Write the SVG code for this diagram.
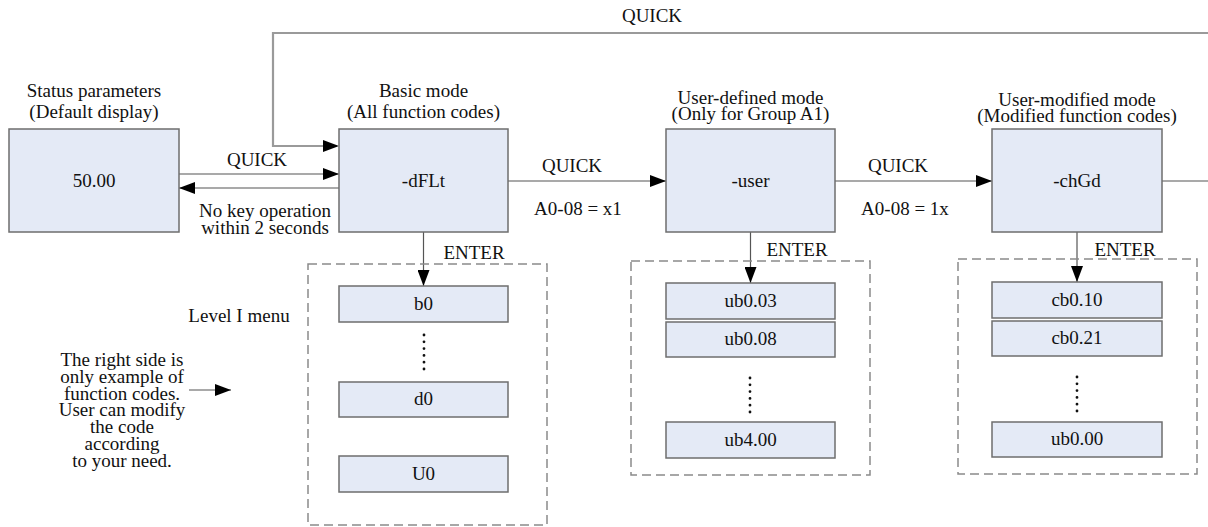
<svg xmlns="http://www.w3.org/2000/svg" width="1208" height="527" viewBox="0 0 1208 527" font-family="'Liberation Serif', 'Times New Roman', 'DejaVu Serif', serif">
<style>
text{font-family:'Liberation Serif','Times New Roman','DejaVu Serif',serif;font-size:19px;fill:#111;text-anchor:middle}
.box{fill:#e4eaf6;stroke:#6e6e6e;stroke-width:1.5}
.grp{fill:none;stroke:#8a8a8a;stroke-width:1.5;stroke-dasharray:9 5}
.ln{fill:none;stroke:#555;stroke-width:1.2}
.loop{fill:none;stroke:#9a9a9a;stroke-width:2.2}
.dots{stroke:#111;stroke-width:2.8;stroke-linecap:round;stroke-dasharray:0 6.8}
</style>
<defs>
<marker id="ah" markerWidth="16" markerHeight="12" refX="16" refY="6" orient="auto" markerUnits="userSpaceOnUse">
<path d="M0,0 L16,6 L0,12 Z" fill="#000"/>
</marker>
</defs>
<rect width="1208" height="527" fill="#fff"/>

<g id="connectors">
<path class="loop" d="M1208,33 H273 V146 H337"/>
<path class="ln" d="M273,146 H339" marker-end="url(#ah)" stroke-opacity="0"/>
<path class="ln" d="M179,174 H339" marker-end="url(#ah)"/>
<path class="ln" d="M339,188 H179" marker-end="url(#ah)"/>
<path class="ln" d="M508,181 H666" marker-end="url(#ah)"/>
<path class="ln" d="M835,181 H992" marker-end="url(#ah)"/>
<path class="ln" d="M1162,181 H1208"/>
<path class="ln" d="M423.5,232 V286" marker-end="url(#ah)"/>
<path class="ln" d="M750.5,232 V283" marker-end="url(#ah)"/>
<path class="ln" d="M1077,232 V282" marker-end="url(#ah)"/>
<path class="ln" d="M189,390 H231" marker-end="url(#ah)"/>
<text x="652" y="22">QUICK</text>
<text x="257" y="166">QUICK</text>
<text x="265" y="217">No key operation</text>
<text x="265" y="234">within 2 seconds</text>
<text x="572" y="172">QUICK</text>
<text x="578" y="215">A0-08 = x1</text>
<text x="898" y="172">QUICK</text>
<text x="905" y="215">A0-08 = 1x</text>
<text x="474" y="259">ENTER</text>
<text x="797" y="256">ENTER</text>
<text x="1125" y="256">ENTER</text>
</g>

<g id="status">
<text x="94" y="97">Status parameters</text>
<text x="94" y="118">(Default display)</text>
<rect class="box" x="9" y="129" width="170" height="103"/>
<text x="94" y="187">50.00</text>
</g>

<g id="basic">
<text x="423.5" y="97">Basic mode</text>
<text x="423.5" y="118">(All function codes)</text>
<rect class="box" x="339" y="129" width="169" height="103"/>
<text x="423.5" y="187">-dFLt</text>
</g>

<g id="user">
<text x="750.5" y="104">User-defined mode</text>
<text x="750.5" y="120">(Only for Group A1)</text>
<rect class="box" x="666" y="129" width="169" height="103"/>
<text x="750.5" y="187">-user</text>
</g>

<g id="chgd">
<text x="1077" y="106">User-modified mode</text>
<text x="1077" y="122">(Modified function codes)</text>
<rect class="box" x="992" y="129" width="170" height="103"/>
<text x="1077" y="187">-chGd</text>
</g>

<g id="basic-menu">
<rect class="grp" x="308" y="264" width="239" height="261"/>
<rect class="box" x="339" y="286" width="169" height="36"/>
<text x="423.5" y="310">b0</text>
<line class="dots" x1="424" y1="335" x2="424" y2="370"/>
<rect class="box" x="339" y="382" width="169" height="35"/>
<text x="423.5" y="405">d0</text>
<rect class="box" x="339" y="456" width="169" height="36"/>
<text x="423.5" y="480">U0</text>
</g>

<g id="level-label">
<text x="239" y="322">Level I menu</text>
</g>

<g id="note">
<text x="122" y="366">The right side is</text>
<text x="122" y="383">only example of</text>
<text x="122" y="400">function codes.</text>
<text x="122" y="416">User can modify</text>
<text x="122" y="433">the code</text>
<text x="122" y="450">according</text>
<text x="122" y="467">to your need.</text>
</g>

<g id="user-menu">
<rect class="grp" x="631" y="261" width="239" height="214"/>
<rect class="box" x="666" y="283" width="169" height="36"/>
<text x="750.5" y="307">ub0.03</text>
<rect class="box" x="666" y="322" width="169" height="35"/>
<text x="750.5" y="345">ub0.08</text>
<line class="dots" x1="750" y1="378" x2="750" y2="413"/>
<rect class="box" x="666" y="422" width="169" height="36"/>
<text x="750.5" y="446">ub4.00</text>
</g>

<g id="chgd-menu">
<rect class="grp" x="958" y="259" width="239" height="215"/>
<rect class="box" x="992" y="282" width="170" height="36"/>
<text x="1077" y="306">cb0.10</text>
<rect class="box" x="992" y="321" width="170" height="35"/>
<text x="1077" y="344">cb0.21</text>
<line class="dots" x1="1077" y1="377" x2="1077" y2="412"/>
<rect class="box" x="992" y="422" width="170" height="35"/>
<text x="1077" y="445">ub0.00</text>
</g>
</svg>
